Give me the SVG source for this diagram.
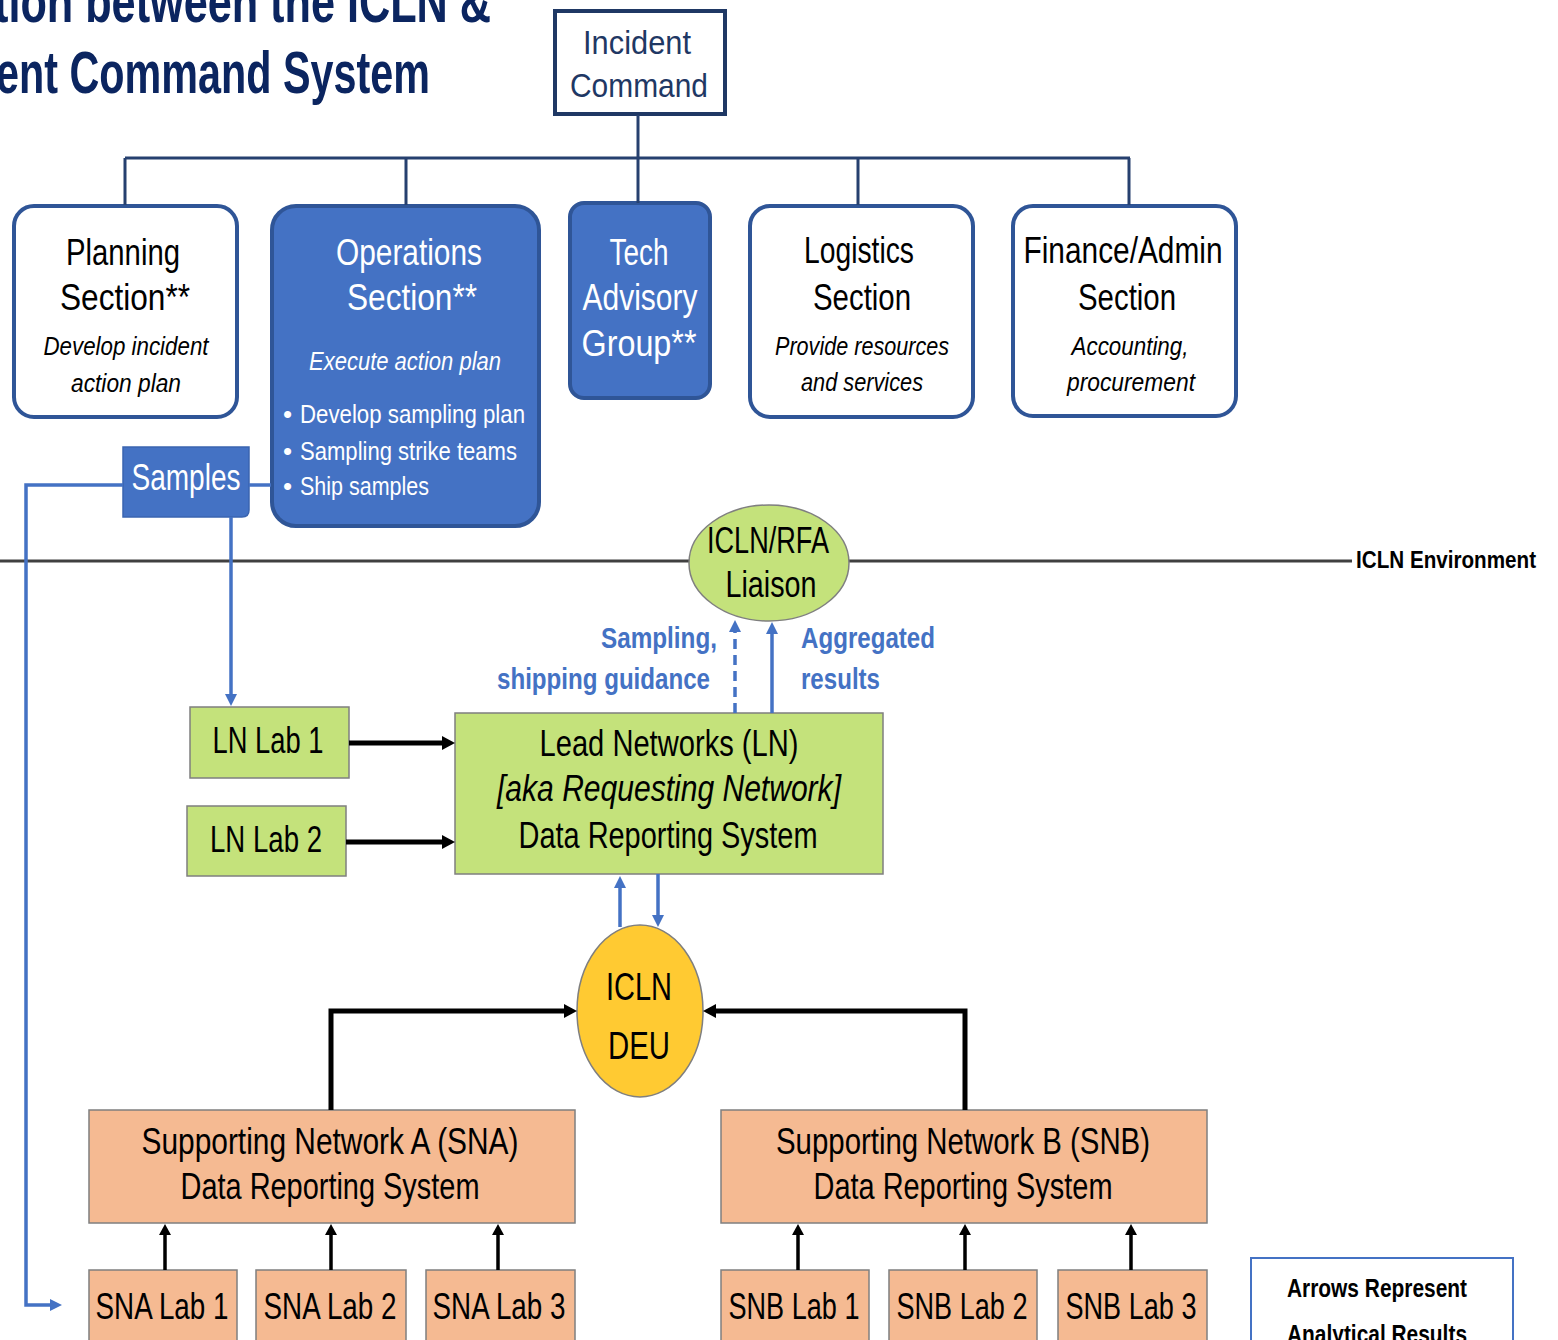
<svg xmlns="http://www.w3.org/2000/svg" width="1558" height="1340" viewBox="0 0 1558 1340">
<style>
text{font-family:"Liberation Sans","Noto Sans",sans-serif;text-anchor:middle;}
.t{font-size:36px;fill:#000;}
.tw{font-size:36px;fill:#fff;}
.it{font-size:26px;font-style:italic;fill:#000;}
.itw{font-size:26px;font-style:italic;fill:#fff;}
.bl{font-size:26px;fill:#fff;text-anchor:start;}
.lab{font-size:30px;font-weight:bold;fill:#4472c4;}
.ttl{font-size:60px;font-weight:bold;fill:#0b2560;text-anchor:start;}
.sec{fill:#fff;stroke:#2f5597;stroke-width:4;}
.secb{fill:#4472c4;stroke:#2f5597;stroke-width:4;}
.grn{fill:#c4e27b;stroke:#7f7f7f;stroke-width:1.5;}
.org{fill:#f5ba92;stroke:#7f7f7f;stroke-width:1.5;}
.cn-org{fill:none;stroke:#26406f;stroke-width:3;}
.cn-blue{fill:none;stroke:#4472c4;stroke-width:3.5;}
.cn-blk{fill:none;stroke:#000;stroke-width:5;}
.cn-blk2{fill:none;stroke:#000;stroke-width:3.5;}
</style>
<defs>
<marker id="ab" markerUnits="userSpaceOnUse" markerWidth="14" markerHeight="14" refX="5" refY="7" orient="auto"><path d="M0,0 L13,7 L0,14 z" fill="#000"/></marker>
<marker id="ab2" markerUnits="userSpaceOnUse" markerWidth="12" markerHeight="12" refX="4" refY="6" orient="auto"><path d="M0,0 L11,6 L0,12 z" fill="#000"/></marker>
<marker id="ub" markerUnits="userSpaceOnUse" markerWidth="13" markerHeight="12" refX="4" refY="6" orient="auto"><path d="M0,0 L12,6 L0,12 z" fill="#4472c4"/></marker>
</defs>
<rect x="0" y="0" width="1558" height="1340" fill="#fff"/>

<g id="title">
<text class="ttl" x="-6" y="22" textLength="497" lengthAdjust="spacingAndGlyphs">tion between the ICLN &amp;</text>
<text class="ttl" x="-4" y="93" textLength="434" lengthAdjust="spacingAndGlyphs">ent Command System</text>
</g>

<line x1="0" y1="561" x2="1352" y2="561" stroke="#404040" stroke-width="3"/>
<text x="1356" y="568" style="font-size:24px;font-weight:bold;fill:#000;text-anchor:start" textLength="180" lengthAdjust="spacingAndGlyphs">ICLN Environment</text>

<g id="incident-command">
<rect x="555" y="11" width="170" height="103" fill="#fff" stroke="#1f3864" stroke-width="4"/>
<text x="637" y="54" style="font-size:33px;fill:#1f3864" textLength="108" lengthAdjust="spacingAndGlyphs">Incident</text>
<text x="639" y="97" style="font-size:33px;fill:#1f3864" textLength="138" lengthAdjust="spacingAndGlyphs">Command</text>
</g>

<g id="planning">
<rect class="sec" x="14" y="206" width="223" height="211" rx="20"/>
<text class="t" x="123" y="265" textLength="114" lengthAdjust="spacingAndGlyphs">Planning</text>
<text class="t" x="125" y="310" textLength="130" lengthAdjust="spacingAndGlyphs">Section**</text>
<text class="it" x="126" y="355" textLength="165" lengthAdjust="spacingAndGlyphs">Develop incident</text>
<text class="it" x="126" y="392" textLength="110" lengthAdjust="spacingAndGlyphs">action plan</text>
</g>

<g id="operations">
<rect class="secb" x="272" y="206" width="267" height="320" rx="24"/>
<text class="tw" x="409" y="265" textLength="146" lengthAdjust="spacingAndGlyphs">Operations</text>
<text class="tw" x="412" y="310" textLength="130" lengthAdjust="spacingAndGlyphs">Section**</text>
<text class="itw" x="405" y="370" textLength="192" lengthAdjust="spacingAndGlyphs">Execute action plan</text>
<text class="bl" x="283" y="423">•</text>
<text class="bl" x="300" y="423" textLength="225" lengthAdjust="spacingAndGlyphs">Develop sampling plan</text>
<text class="bl" x="283" y="460">•</text>
<text class="bl" x="300" y="460" textLength="217" lengthAdjust="spacingAndGlyphs">Sampling strike teams</text>
<text class="bl" x="283" y="495">•</text>
<text class="bl" x="300" y="495" textLength="129" lengthAdjust="spacingAndGlyphs">Ship samples</text>
</g>

<g id="tech-advisory">
<rect class="secb" x="570" y="203" width="140" height="195" rx="14"/>
<text class="tw" x="639" y="265" textLength="59" lengthAdjust="spacingAndGlyphs">Tech</text>
<text class="tw" x="640" y="310" textLength="115" lengthAdjust="spacingAndGlyphs">Advisory</text>
<text class="tw" x="639" y="356" textLength="115" lengthAdjust="spacingAndGlyphs">Group**</text>
</g>

<g id="logistics">
<rect class="sec" x="750" y="206" width="223" height="211" rx="20"/>
<text class="t" x="859" y="263" textLength="110" lengthAdjust="spacingAndGlyphs">Logistics</text>
<text class="t" x="862" y="310" textLength="98" lengthAdjust="spacingAndGlyphs">Section</text>
<text class="it" x="862" y="355" textLength="174" lengthAdjust="spacingAndGlyphs">Provide resources</text>
<text class="it" x="862" y="391" textLength="122" lengthAdjust="spacingAndGlyphs">and services</text>
</g>

<g id="finance">
<rect class="sec" x="1013" y="206" width="223" height="210" rx="20"/>
<text class="t" x="1123" y="263" textLength="199" lengthAdjust="spacingAndGlyphs">Finance/Admin</text>
<text class="t" x="1127" y="310" textLength="98" lengthAdjust="spacingAndGlyphs">Section</text>
<text class="it" x="1130" y="355" textLength="117" lengthAdjust="spacingAndGlyphs">Accounting,</text>
<text class="it" x="1131" y="391" textLength="128" lengthAdjust="spacingAndGlyphs">procurement</text>
</g>

<g id="samples">
<path d="M123,447 H249 V510 Q249,517 242,517 H123 Z" fill="#4472c4" stroke="#3a64b0" stroke-width="1.5"/>
<text class="tw" x="186" y="490" textLength="109" lengthAdjust="spacingAndGlyphs">Samples</text>
</g>

<g id="liaison">
<ellipse cx="769" cy="563" rx="80" ry="58" class="grn"/>
<text class="t" x="768" y="553" textLength="122" lengthAdjust="spacingAndGlyphs">ICLN/RFA</text>
<text class="t" x="771" y="597" textLength="91" lengthAdjust="spacingAndGlyphs">Liaison</text>
</g>

<g id="labels">
<text class="lab" x="717" y="648" style="text-anchor:end" textLength="116" lengthAdjust="spacingAndGlyphs">Sampling,</text>
<text class="lab" x="710" y="689" style="text-anchor:end" textLength="213" lengthAdjust="spacingAndGlyphs">shipping guidance</text>
<text class="lab" x="801" y="648" style="text-anchor:start" textLength="134" lengthAdjust="spacingAndGlyphs">Aggregated</text>
<text class="lab" x="801" y="689" style="text-anchor:start" textLength="79" lengthAdjust="spacingAndGlyphs">results</text>
</g>

<g id="lead-networks">
<rect class="grn" x="455" y="713" width="428" height="161"/>
<text class="t" x="669" y="756" textLength="259" lengthAdjust="spacingAndGlyphs">Lead Networks (LN)</text>
<text class="t" x="669" y="801" style="font-style:italic" textLength="344" lengthAdjust="spacingAndGlyphs">[aka Requesting Network]</text>
<text class="t" x="668" y="848" textLength="299" lengthAdjust="spacingAndGlyphs">Data Reporting System</text>
</g>

<g id="ln-lab-1">
<rect class="grn" x="190" y="707" width="159" height="71"/>
<text class="t" x="268" y="753" textLength="111" lengthAdjust="spacingAndGlyphs">LN Lab 1</text>
</g>
<g id="ln-lab-2">
<rect class="grn" x="187" y="806" width="159" height="70"/>
<text class="t" x="266" y="852" textLength="112" lengthAdjust="spacingAndGlyphs">LN Lab 2</text>
</g>

<g id="iclndeu">
<ellipse cx="640" cy="1011" rx="63" ry="86" fill="#ffca32" stroke="#7f7f7f" stroke-width="1.5"/>
<text class="t" x="639" y="1000" style="font-size:38px" textLength="66" lengthAdjust="spacingAndGlyphs">ICLN</text>
<text class="t" x="639" y="1059" style="font-size:38px" textLength="62" lengthAdjust="spacingAndGlyphs">DEU</text>
</g>

<g id="sna">
<rect class="org" x="89" y="1110" width="486" height="113"/>
<text class="t" x="330" y="1154" textLength="377" lengthAdjust="spacingAndGlyphs">Supporting Network A (SNA)</text>
<text class="t" x="330" y="1199" textLength="299" lengthAdjust="spacingAndGlyphs">Data Reporting System</text>
</g>
<g id="snb">
<rect class="org" x="721" y="1110" width="486" height="113"/>
<text class="t" x="963" y="1154" textLength="374" lengthAdjust="spacingAndGlyphs">Supporting Network B (SNB)</text>
<text class="t" x="963" y="1199" textLength="299" lengthAdjust="spacingAndGlyphs">Data Reporting System</text>
</g>

<g id="sna-lab-1"><rect class="org" x="89" y="1270" width="148" height="80"/><text class="t" x="162" y="1319" textLength="133" lengthAdjust="spacingAndGlyphs">SNA Lab 1</text></g>
<g id="sna-lab-2"><rect class="org" x="256" y="1270" width="150" height="80"/><text class="t" x="330" y="1319" textLength="133" lengthAdjust="spacingAndGlyphs">SNA Lab 2</text></g>
<g id="sna-lab-3"><rect class="org" x="426" y="1270" width="149" height="80"/><text class="t" x="499" y="1319" textLength="133" lengthAdjust="spacingAndGlyphs">SNA Lab 3</text></g>
<g id="snb-lab-1"><rect class="org" x="721" y="1270" width="148" height="80"/><text class="t" x="794" y="1319" textLength="131" lengthAdjust="spacingAndGlyphs">SNB Lab 1</text></g>
<g id="snb-lab-2"><rect class="org" x="889" y="1270" width="148" height="80"/><text class="t" x="962" y="1319" textLength="131" lengthAdjust="spacingAndGlyphs">SNB Lab 2</text></g>
<g id="snb-lab-3"><rect class="org" x="1058" y="1270" width="149" height="80"/><text class="t" x="1131" y="1319" textLength="131" lengthAdjust="spacingAndGlyphs">SNB Lab 3</text></g>

<g id="legend">
<rect x="1251" y="1258" width="262" height="100" fill="#fff" stroke="#4472c4" stroke-width="2"/>
<text x="1377" y="1297" style="font-size:25px;font-weight:bold;fill:#000" textLength="180" lengthAdjust="spacingAndGlyphs">Arrows Represent</text>
<text x="1377" y="1343" style="font-size:25px;font-weight:bold;fill:#000" textLength="180" lengthAdjust="spacingAndGlyphs">Analytical Results</text>
</g>

<g id="connectors">
<path class="cn-org" d="M638,115 V203"/>
<path class="cn-org" d="M125,158 H1130"/>
<path class="cn-org" d="M125,158 V205 M406,158 V205 M858,158 V205 M1129,158 V205"/>
<path class="cn-blue" d="M249,485 H271"/>
<path class="cn-blue" d="M123,485 H26 V1305 H54" marker-end="url(#ub)"/>
<path class="cn-blue" d="M231,517 V698" marker-end="url(#ub)"/>
<path class="cn-blue" d="M735,713 V628" stroke-dasharray="10,6" marker-end="url(#ub)"/>
<path class="cn-blue" d="M772,713 V630" marker-end="url(#ub)"/>
<path class="cn-blue" d="M620,927 V884" marker-end="url(#ub)"/>
<path class="cn-blue" d="M658,874 V919" marker-end="url(#ub)"/>
<path class="cn-blk" d="M349,743 H447" marker-end="url(#ab)"/>
<path class="cn-blk" d="M346,842 H447" marker-end="url(#ab)"/>
<path class="cn-blk" d="M331,1110 V1011 H569" marker-end="url(#ab)"/>
<path class="cn-blk" d="M965,1110 V1011 H711" marker-end="url(#ab)"/>
<path class="cn-blk2" d="M165,1270 V1231" marker-end="url(#ab2)"/>
<path class="cn-blk2" d="M331,1270 V1231" marker-end="url(#ab2)"/>
<path class="cn-blk2" d="M498,1270 V1231" marker-end="url(#ab2)"/>
<path class="cn-blk2" d="M798,1270 V1231" marker-end="url(#ab2)"/>
<path class="cn-blk2" d="M965,1270 V1231" marker-end="url(#ab2)"/>
<path class="cn-blk2" d="M1131,1270 V1231" marker-end="url(#ab2)"/>
</g>
</svg>
